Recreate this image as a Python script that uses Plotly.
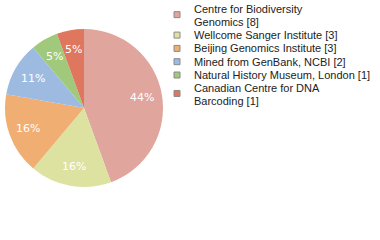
import math
import plotly.graph_objects as go

W, H = 380, 240

labels = ["Centre for Biodiversity Genomics", "Wellcome Sanger Institute",
          "Beijing Genomics Institute", "Mined from GenBank, NCBI",
          "Natural History Museum, London", "Canadian Centre for DNA Barcoding"]
counts = [8, 3, 3, 2, 1, 1]
pct_text = ["44%", "16%", "16%", "11%", "5%", "5%"]
legend_lines = [["Centre for Biodiversity", "Genomics [8]"],
                ["Wellcome Sanger Institute [3]"],
                ["Beijing Genomics Institute [3]"],
                ["Mined from GenBank, NCBI [2]"],
                ["Natural History Museum, London [1]"],
                ["Canadian Centre for DNA", "Barcoding [1]"]]
colors = ["#E0A59D", "#DDE2A1", "#F0AE72", "#9DBBE1", "#A0C97B", "#DF765E"]

FONT = "Liberation Sans"

# pie geometry (pixels)
CX, CY, R = 84, 108, 79

fig = go.Figure()
fig.add_trace(go.Pie(
    labels=labels, values=counts, textinfo="none",
    marker=dict(colors=colors, line=dict(width=0)),
    sort=False, direction="clockwise", rotation=0,
    domain=dict(x=[(CX - R) / W, (CX + R) / W], y=[1 - (CY + R) / H, 1 - (CY - R) / H]),
    showlegend=False, hoverinfo="label+value",
))

shapes, annotations = [], []

# percentage labels at 0.75 radius along each slice's bisector
total = sum(counts)
cum = 0
for v, t in zip(counts, pct_text):
    theta = 2 * math.pi * (cum + v / 2) / total
    cum += v
    px = CX + 0.75 * R * math.sin(theta)
    py = CY - 0.75 * R * math.cos(theta)
    annotations.append(dict(
        x=px / W, y=1 - py / H, xref="paper", yref="paper",
        xanchor="center", yanchor="middle", text=t, showarrow=False,
        font=dict(family="DejaVu Sans", size=11, color="white")))

cursor = 9.5
LINE_H = 12.3
ROW_GAP = 13.3
for lines, col in zip(legend_lines, colors):
    centers = [cursor + i * LINE_H for i in range(len(lines))]
    for txt, cy in zip(lines, centers):
        annotations.append(dict(
            x=192 / W, y=1 - cy / H, xref="paper", yref="paper",
            xanchor="left", yanchor="middle", text=txt, showarrow=False,
            font=dict(family=FONT, size=11, color="#222222")))
    sq = sum(centers) / len(centers) - 1 if len(lines) > 1 else centers[0]
    shapes.append(dict(type="rect", xref="paper", yref="paper",
                       x0=174 / W, x1=180 / W,
                       y0=1 - (sq + 3) / H, y1=1 - (sq - 3) / H,
                       fillcolor=col, line=dict(color="#8a8a8a", width=1)))
    cursor = centers[-1] + ROW_GAP

fig.update_layout(width=W, height=H, margin=dict(l=0, r=0, t=0, b=0),
                  paper_bgcolor="white", plot_bgcolor="white",
                  shapes=shapes, annotations=annotations)
fig.write_html("out.html")
